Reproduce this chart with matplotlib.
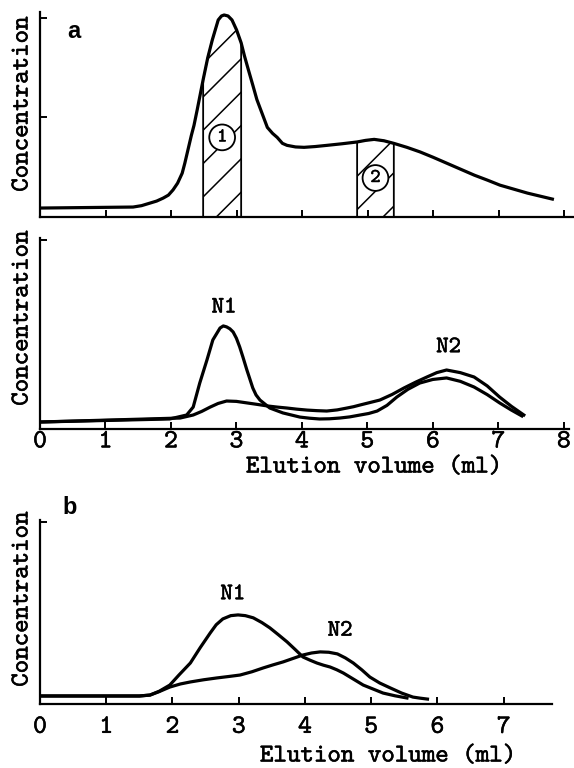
import matplotlib
matplotlib.use("Agg")
import matplotlib.pyplot as plt
import matplotlib.patheffects as pe
import numpy as np

# panel a, upper trace (elution volume ml, relative concentration)
a_vol = [0.00, 1.42, 1.55, 1.68, 1.78, 1.88, 1.96, 2.03, 2.10, 2.17, 2.21, 2.26, 2.31,
         2.35, 2.40, 2.49, 2.56, 2.63, 2.72, 2.77, 2.81, 2.87, 2.93, 3.00, 3.07, 3.12,
         3.18, 3.25, 3.31, 3.39, 3.47, 3.55, 3.62, 3.70, 3.77, 3.90, 4.03, 4.20, 4.38,
         4.61, 4.84, 4.97, 5.10, 5.25, 5.40, 5.60, 5.80, 6.00, 6.21, 6.42, 6.63, 6.83,
         7.02, 7.23, 7.44, 7.63, 7.82]
a_conc = [0.045, 0.05, 0.057, 0.07, 0.08, 0.095, 0.11, 0.136, 0.17, 0.22, 0.27, 0.34, 0.41,
          0.46, 0.54, 0.69, 0.80, 0.89, 0.99, 1.01, 1.015, 1.01, 0.99, 0.94, 0.875, 0.81,
          0.74, 0.66, 0.59, 0.52, 0.45, 0.42, 0.40, 0.37, 0.36, 0.352, 0.35, 0.354, 0.36,
          0.368, 0.377, 0.385, 0.39, 0.383, 0.37, 0.35, 0.327, 0.30, 0.27, 0.24, 0.21, 0.185,
          0.16, 0.14, 0.12, 0.105, 0.09]
fractions = [(2.49, 3.07, "1"), (4.84, 5.40, "2")]
fraction_label_y = [0.40, 0.196]

# panel a, lower traces (rechromatography of fractions 1 and 2)
r1_vol = [0.00, 1.98, 2.24, 2.34, 2.44, 2.55, 2.64, 2.75, 2.80, 2.85, 2.90, 2.95, 3.00,
          3.05, 3.10, 3.16, 3.20, 3.25, 3.30, 3.36, 3.51, 3.71, 3.97, 4.12, 4.27, 4.42,
          4.58, 4.73, 4.89, 5.02, 5.15, 5.30, 5.45, 5.62, 5.80, 6.00, 6.21, 6.42, 6.63,
          6.83, 7.02, 7.20, 7.36]
r1_conc = [0.037, 0.053, 0.074, 0.116, 0.243, 0.365, 0.471, 0.534, 0.545, 0.540, 0.53, 0.513, 0.48,
           0.434, 0.38, 0.312, 0.27, 0.217, 0.18, 0.153, 0.111, 0.085, 0.063, 0.057, 0.053, 0.054,
           0.058, 0.064, 0.074, 0.082, 0.095, 0.125, 0.169, 0.21, 0.243, 0.262, 0.270, 0.252, 0.222,
           0.182, 0.138, 0.10, 0.069]
r2_vol = [0.00, 2.14, 2.34, 2.47, 2.60, 2.72, 2.85, 3.00, 3.16, 3.32, 3.47, 3.62, 3.77,
          3.92, 4.08, 4.23, 4.38, 4.54, 4.69, 4.79, 4.89, 5.04, 5.19, 5.38, 5.56, 5.74,
          5.91, 6.06, 6.21, 6.42, 6.63, 6.83, 7.02, 7.20, 7.39]
r2_conc = [0.037, 0.058, 0.074, 0.093, 0.116, 0.135, 0.148, 0.146, 0.138, 0.13, 0.122, 0.116, 0.111,
           0.105, 0.10, 0.097, 0.095, 0.101, 0.111, 0.118, 0.127, 0.14, 0.153, 0.183, 0.217, 0.248,
           0.275, 0.298, 0.312, 0.298, 0.275, 0.228, 0.169, 0.12, 0.074]

# panel b
b1_vol = [0.00, 1.50, 1.66, 1.80, 1.96, 2.10, 2.27, 2.42, 2.57, 2.66, 2.76, 2.88, 2.99,
          3.10, 3.22, 3.35, 3.47, 3.60, 3.73, 3.85, 3.97, 4.08, 4.18, 4.28, 4.38, 4.48,
          4.58, 4.73, 4.88, 5.03, 5.18, 5.36, 5.54]
b1_conc = [0.044, 0.044, 0.049, 0.07, 0.104, 0.16, 0.225, 0.31, 0.39, 0.435, 0.467, 0.485, 0.489,
           0.485, 0.473, 0.447, 0.418, 0.38, 0.341, 0.30, 0.258, 0.24, 0.225, 0.213, 0.203, 0.188,
           0.170, 0.137, 0.104, 0.082, 0.060, 0.045, 0.033]
b2_vol = [0.00, 1.50, 1.66, 1.80, 1.96, 2.12, 2.27, 2.47, 2.67, 2.85, 3.02, 3.20, 3.37,
          3.52, 3.67, 3.82, 3.97, 4.10, 4.23, 4.36, 4.49, 4.61, 4.73, 4.86, 4.98, 5.13,
          5.29, 5.46, 5.63, 5.74, 5.85]
b2_conc = [0.044, 0.044, 0.049, 0.068, 0.093, 0.11, 0.121, 0.133, 0.143, 0.151, 0.159, 0.177, 0.198,
           0.215, 0.231, 0.25, 0.269, 0.28, 0.286, 0.284, 0.275, 0.253, 0.225, 0.187, 0.148, 0.115,
           0.088, 0.06, 0.038, 0.032, 0.027]

mid_ticks = list(range(0, 9))
b_ticks = list(range(0, 8))

W, H = 574, 768
mono = "cmtt10"
plt.rcParams["hatch.linewidth"] = 1.1
# typewriter text on the original is a bit heavier than cmtt10
heavy = [pe.withStroke(linewidth=0.35, foreground="black")]

fig = plt.figure(figsize=(W / 100, H / 100), dpi=100)


def box(left, right, top, bottom):
    return [left / W, 1 - bottom / H, (right - left) / W, (bottom - top) / H]


def style(ax, xlim, ylim, xticks, yticks, labels, pad):
    ax.set_xlim(*xlim)
    ax.set_ylim(*ylim)
    for s in ("top", "right"):
        ax.spines[s].set_visible(False)
    for s in ("left", "bottom"):
        ax.spines[s].set_linewidth(1.6)
    ax.set_xticks(xticks)
    ax.set_yticks(yticks)
    ax.set_yticklabels([])
    if labels:
        ax.set_xticklabels([str(t) for t in xticks], fontfamily=mono, fontsize=19)
        for t in ax.get_xticklabels():
            t.set_path_effects(heavy)
    else:
        ax.set_xticklabels([])
    ax.tick_params(axis="both", direction="in", length=5, width=1.4, pad=pad)


def label(ax, x, y, s):
    ax.text(x, y, s, ha="center", va="center", fontfamily=mono, fontsize=17,
            path_effects=heavy)


# ---- panel a, top
ax1 = fig.add_axes(box(40, 574, 12, 217))
va = np.array(a_vol)
ca = np.array(a_conc)
for lo, hi, lab in fractions:
    ax1.fill_between(va, 0, ca, where=(va >= lo - 1e-6) & (va <= hi + 1e-6),
                     facecolor="white", edgecolor="black", hatch="/", linewidth=1.3)
ax1.plot(a_vol, a_conc, color="black", lw=2.3, solid_joinstyle="round")
for (lo, hi, lab), ly in zip(fractions, fraction_label_y):
    ax1.text((lo + hi) / 2, ly, lab, ha="center", va="center", fontfamily=mono,
             fontsize=14, path_effects=heavy,
             bbox=dict(boxstyle="circle,pad=0.2", fc="white", ec="black", lw=1.3))
style(ax1, (0, 8.15), (0, 1.03), list(range(1, 9)), [0.5, 1.0], False, 2)

# ---- panel a, bottom
ax2 = fig.add_axes(box(40, 569, 238, 429))
ax2.plot(r1_vol, r1_conc, color="black", lw=2.3, solid_joinstyle="round")
ax2.plot(r2_vol, r2_conc, color="black", lw=2.3, solid_joinstyle="round")
label(ax2, 2.81, 0.64, "N1")
label(ax2, 6.24, 0.43, "N2")
style(ax2, (0, 8.08), (0, 1.01), mid_ticks, [1.0], True, 1)

# ---- panel b
ax3 = fig.add_axes(box(40, 552, 520, 704))
ax3.plot(b1_vol, b1_conc, color="black", lw=2.3, solid_joinstyle="round")
ax3.plot(b2_vol, b2_conc, color="black", lw=2.3, solid_joinstyle="round")
label(ax3, 2.91, 0.60, "N1")
label(ax3, 4.53, 0.40, "N2")
style(ax3, (0, 7.73), (0, 1.01), b_ticks, [1.0], True, 8.5)

# axis titles and panel letters
for cy in (104, 318, 599):
    fig.text(23 / W, 1 - cy / H, "Concentration", rotation=90, ha="center", va="center",
             fontfamily=mono, fontsize=18.5, path_effects=heavy)
fig.text(374 / W, 1 - 468 / H, "Elution volume (ml)", ha="center", va="center",
         fontfamily=mono, fontsize=18.5, path_effects=heavy)
fig.text(388 / W, 1 - 757 / H, "Elution volume (ml)", ha="center", va="center",
         fontfamily=mono, fontsize=18.5, path_effects=heavy)
fig.text(74 / W, 1 - 31 / H, "a", ha="center", va="center", fontfamily="Liberation Sans",
         fontweight="bold", fontsize=17)
fig.text(70 / W, 1 - 507 / H, "b", ha="center", va="center", fontfamily="Liberation Sans",
         fontweight="bold", fontsize=17)

fig.savefig("out.png", dpi=100)
